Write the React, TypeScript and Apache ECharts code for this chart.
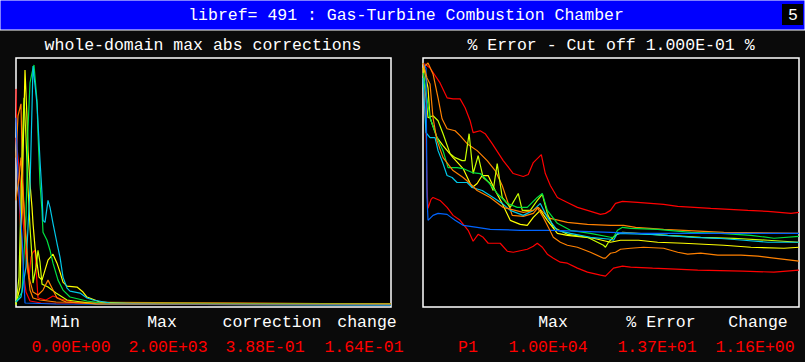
import React, { useEffect, useRef } from "react";
import * as echarts from "echarts";

// ---- Left panel: whole-domain max abs corrections (iteration, scaled value) ----
const leftRedA = [[0,219],[1,160],[3,140],[5,117],[7,90],[9,60],[11,40],[13,30],[15,50],[17,55],[19,57],[21,24],[22,9],[30,7],[37,11],[45,8],[60,4],[375,3]];
const leftRedB = [[0,170],[2,130],[4,90],[6,60],[8,30],[10,15],[14,6],[25,4],[375,3]];
const leftOrangeA = [[0,150],[2,192],[5,204],[6,157],[7,114],[9,84],[11,57],[12,37],[14,17],[17,9],[24,7],[40,5],[375,3]];
const leftYellow = [[0,3],[4,20],[7,150],[9,238],[11,190],[12,157],[14,124],[16,100],[17,84],[19,60],[21,44],[23,30],[26,27],[29,37],[32,47],[37,53],[41,44],[44,35],[47,25],[51,21],[61,20],[67,15],[71,10],[84,5],[120,3],[375,3]];
const leftLime = [[0,2],[3,30],[6,150],[8,210],[10,170],[12,120],[14,80],[16,50],[17,24],[20,40],[22,57],[24,45],[26,23],[32,20],[40,14],[51,7],[80,3],[375,2]];
const leftGreen = [[0,5],[6,15],[10,90],[12,180],[14,225],[16,235],[18,243],[21,207],[22,174],[24,124],[26,97],[27,75],[31,67],[34,57],[37,44],[42,27],[47,17],[54,10],[71,6],[84,4],[375,3]];
const leftCyan = [[0,5],[5,10],[10,40],[14,120],[16,200],[17,242],[21,204],[24,147],[26,114],[27,87],[29,85],[32,107],[34,100],[37,84],[41,64],[44,50],[47,30],[51,19],[54,16],[64,14],[71,9],[77,7],[94,4],[140,3],[375,2]];
const leftBlue = [[0,190],[1,160],[2,130],[4,100],[6,70],[8,24],[9,4],[40,3],[375,2]];
const leftOrangeB = [[0,107],[3,130],[5,150],[7,120],[9,80],[11,50],[13,30],[17,15],[22,12],[27,17],[32,27],[37,17],[41,9],[50,5],[80,3],[375,3]];

// ---- Right panel: % Error (iteration, scaled value) ----
const rightRedTop = [[0,244],[2,244],[7,240],[17,225],[24,210],[30,209],[37,209],[42,200],[47,187],[50,175],[57,177],[62,174],[69,164],[80,147],[90,134],[100,131],[105,133],[110,145],[118,153],[122,134],[127,122],[134,110],[144,105],[154,100],[164,97],[177,93],[182,94],[187,97],[192,104],[199,106],[214,105],[240,103],[254,101],[287,99],[324,97],[344,96],[367,94],[375,95]];
const rightRedBottom = [[0,240],[3,180],[4,120],[5,99],[8,108],[10,110],[17,107],[24,100],[30,92],[37,87],[45,77],[50,66],[55,73],[60,70],[65,64],[77,64],[84,56],[90,55],[104,58],[110,61],[114,64],[119,60],[124,53],[130,49],[137,45],[144,44],[154,39],[164,35],[177,32],[182,31],[184,33],[190,39],[199,41],[207,40],[229,39],[252,38],[274,37],[319,36],[350,35],[375,37]];
const rightOrangeUpper = [[0,240],[5,245],[10,234],[15,210],[19,189],[24,179],[32,177],[37,172],[44,164],[54,157],[64,147],[72,137],[79,122],[84,107],[89,92],[100,91],[110,94],[115,100],[120,95],[127,89],[144,85],[164,83],[187,82],[200,82],[212,80],[240,78],[300,75],[375,74]];
const rightYellow = [[0,245],[5,220],[7,190],[14,170],[20,162],[30,150],[40,139],[49,120],[54,124],[59,132],[65,132],[72,117],[79,104],[87,87],[97,83],[104,82],[110,90],[117,97],[124,87],[134,74],[144,72],[170,69],[187,65],[197,67],[215,67],[234,65],[260,64],[300,62],[327,60],[360,59],[375,60]];
const rightLime = [[0,240],[5,190],[10,192],[15,187],[20,174],[27,154],[32,150],[39,147],[42,147],[46,174],[50,134],[55,152],[60,130],[67,124],[70,117],[74,144],[79,110],[87,100],[95,114],[99,97],[107,97],[114,107],[119,113],[124,94],[130,80],[144,73],[164,70],[180,62],[182,60],[185,65],[192,72],[199,75],[214,74],[244,72],[277,70],[310,69],[344,67],[375,65]];
const rightGreen = [[0,235],[7,190],[14,170],[20,157],[25,140],[34,140],[40,139],[49,135],[57,134],[64,127],[74,114],[84,104],[94,100],[104,100],[114,110],[119,114],[124,97],[134,84],[147,77],[167,74],[187,70],[190,70],[194,77],[199,80],[207,79],[234,78],[267,75],[297,74],[327,72],[350,69],[375,71]];
const rightCyan = [[0,230],[3,175],[7,170],[12,170],[15,157],[20,144],[24,132],[29,130],[34,125],[44,125],[49,120],[59,117],[70,110],[79,104],[87,97],[100,92],[110,97],[117,104],[124,90],[134,77],[147,74],[167,70],[187,68],[190,67],[194,74],[227,73],[270,70],[294,69],[320,67],[344,65],[375,65]];
const rightBlue = [[0,245],[3,240],[4,110],[5,87],[10,92],[15,94],[24,93],[28,90],[32,87],[40,82],[54,80],[67,78],[97,77],[130,77],[187,75],[215,74],[375,74]];
const rightOrangeLower = [[0,245],[4,230],[7,224],[10,190],[14,167],[20,150],[30,137],[40,130],[47,124],[54,117],[67,110],[80,100],[100,95],[110,97],[114,100],[120,90],[125,80],[130,70],[137,65],[144,62],[154,60],[167,55],[180,49],[182,49],[187,54],[192,55],[197,58],[207,59],[220,60],[240,59],[254,55],[264,53],[277,54],[294,52],[317,52],[334,51],[350,49],[375,46]];

// ---- Texts ----
const titleText = "libref= 491 : Gas-Turbine Combustion Chamber";
const pageNumber = "5";
const leftTitle = "whole-domain max abs corrections";
const rightTitle = "% Error - Cut off 1.000E-01 %";
const leftHeads = ["Min", "Max", "correction", "change"];
const leftValues = ["0.00E+00", "2.00E+03", "3.88E-01", "1.64E-01"];
const rightHeads = ["Max", "% Error", "Change"];
const rightValues = ["P1", "1.00E+04", "1.37E+01", "1.16E+00"];

const RED = "#ff0000", ORANGE = "#ff8000", YELLOW = "#ffff00", LIME = "#c8ff00", GREEN = "#00e040", CYAN = "#00c8e8", BLUE = "#0064ff";

const leftSeries: [number[][], string][] = [
  [leftRedA, RED], [leftRedB, RED], [leftOrangeA, ORANGE], [leftYellow, YELLOW], [leftLime, LIME],
  [leftGreen, GREEN], [leftCyan, CYAN], [leftBlue, BLUE], [leftOrangeB, ORANGE],
];
const rightSeries: [number[][], string][] = [
  [rightRedTop, RED], [rightRedBottom, RED], [rightOrangeUpper, ORANGE], [rightYellow, YELLOW], [rightLime, LIME],
  [rightGreen, GREEN], [rightCyan, CYAN], [rightBlue, BLUE], [rightOrangeLower, ORANGE],
];

const FONT = "Liberation Mono";

export default function App() {
  const ref = useRef<HTMLDivElement>(null);
  useEffect(() => {
    document.body.style.margin = "0";
    const chart = echarts.init(ref.current!, null, { renderer: "svg" });
    const txt = (text: string, x: number, y: number, fill: string, align = "center") => ({
      type: "text", x, y,
      style: { text, fill, font: `16.5px "${FONT}"`, align, verticalAlign: "middle" },
    });
    const leftHeadX = [65, 162, 272, 367];
    const leftValX = [71, 168, 265, 364];
    const rightHeadX = [553, 661, 758];
    const rightValX = [468, 548, 657, 755];
    const mk = (arr: [number[][], string][], idx: number) =>
      arr.map(([d, c]) => ({
        type: "line", xAxisIndex: idx, yAxisIndex: idx, data: d, showSymbol: false, symbol: "none",
        lineStyle: { color: c, width: 1.2 }, silent: true,
      }));
    chart.setOption({
      animation: false,
      backgroundColor: "#0a0a0a",
      grid: [
        { left: 16, top: 58, width: 375, height: 249, show: true, backgroundColor: "#000", borderColor: "#fff", borderWidth: 1.5 },
        { left: 423, top: 58, width: 376, height: 249, show: true, backgroundColor: "#000", borderColor: "#fff", borderWidth: 1.5 },
      ],
      xAxis: [0, 1].map((i) => ({ type: "value", gridIndex: i, min: 0, max: 375, show: false })),
      yAxis: [0, 1].map((i) => ({ type: "value", gridIndex: i, min: 0, max: 250, show: false })),
      series: [...mk(leftSeries, 0), ...mk(rightSeries, 1)],
      graphic: [
        { type: "rect", shape: { x: 0, y: 0, width: 805, height: 30 }, style: { fill: "#0000ff", stroke: "#ffffff", lineWidth: 1 } },
        { type: "rect", shape: { x: 782, y: 4, width: 21, height: 21 }, style: { fill: "#000" } },
        txt(titleText, 406, 15, "#ffffff"),
        txt(pageNumber, 793, 15, "#ffffff"),
        txt(leftTitle, 203, 45, "#ffffff"),
        txt(rightTitle, 611, 45, "#ffffff"),
        ...leftHeads.map((h, i) => txt(h, leftHeadX[i], 322, "#ffffff")),
        ...leftValues.map((h, i) => txt(h, leftValX[i], 347, "#ff0000")),
        ...rightHeads.map((h, i) => txt(h, rightHeadX[i], 322, "#ffffff")),
        ...rightValues.map((h, i) => txt(h, rightValX[i], 347, "#ff0000")),
      ],
    });
    return () => chart.dispose();
  }, []);
  return <div ref={ref} style={{ position: "absolute", left: 0, top: 0, width: 805, height: 362 }} />;
}
